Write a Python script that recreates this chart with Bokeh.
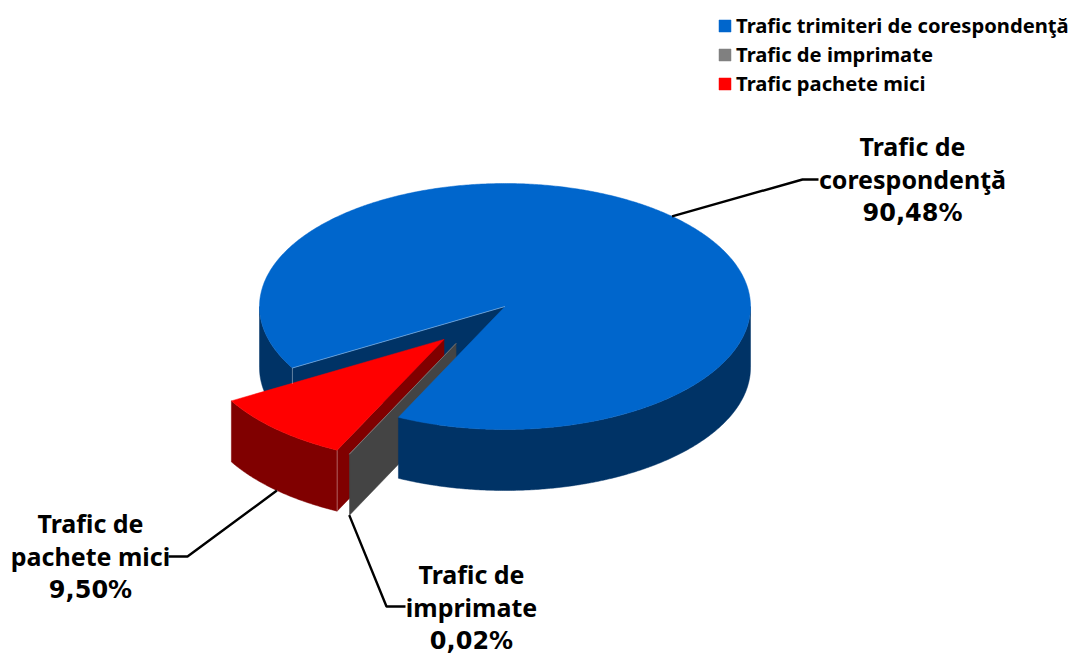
import numpy as np
from bokeh.plotting import figure
from bokeh.models import Range1d, Legend, LegendItem
from bokeh.core.properties import value
from bokeh.embed import file_html
from bokeh.resources import INLINE

# ---- data ----
categories = ["Trafic trimiteri de corespondenţă", "Trafic de imprimate", "Trafic pachete mici"]
shares = [90.48, 0.02, 9.50]
label_lines = [["Trafic de", "corespondenţă"], ["Trafic de", "imprimate"], ["Trafic de", "pachete mici"]]

# ---- style / layout ----
top_colors = ["#0066CC", "#808080", "#FF0000"]
wall_colors = ["#003366", "#444444", "#800000"]
W, H = 1072, 654
FONT = "Noto Sans"
PCT_FONT = "DejaVu Sans"
CX, CY, RX, RY, DEPTH = 504.5, 306.0, 245.5, 123.0, 61.0
FIRST_ANGLE = 240.0


def pt(theta, r=1.0, off=(0.0, 0.0), dz=0.0):
    t = np.radians(theta)
    return (CX + off[0] + r * RX * np.sin(t), CY + off[1] - r * RY * np.cos(t) + dz)


def arc(a, b, off=(0.0, 0.0), dz=0.0):
    n = max(2, int(abs(b - a) * 2) + 2)
    th = np.linspace(a, b, n)
    return [pt(t, 1.0, off, dz) for t in th]


def xs(points):
    return [q[0] for q in points]


def ys(points):
    return [q[1] for q in points]


spans = [s / sum(shares) * 360 for s in shares]
starts = [FIRST_ANGLE]
for s in spans[:-1]:
    starts.append(starts[-1] + s)
ends = [a + s for a, s in zip(starts, spans)]
mids = [(a + b) / 2 for a, b in zip(starts, ends)]

explode_frac = [0.0, 0.36, 0.365]
explode_dir = [mids[0], 213.6, mids[2]]
offs = []
for f, d in zip(explode_frac, explode_dir):
    q = pt(d, f)
    offs.append((q[0] - CX, q[1] - CY))

p = figure(width=W, height=H, x_range=Range1d(0, W), y_range=Range1d(H, 0),
           output_backend="svg", toolbar_location=None, min_border=0,
           background_fill_color="white", border_fill_color="white")
p.axis.visible = False
p.grid.visible = False
p.outline_line_color = None


def poly(points, color, **kw):
    return p.patch(xs(points), ys(points), fill_color=color, line_color=color, line_width=0.5, **kw)


def wall(a, b, off, color):
    top = arc(a, b, off)
    bot = arc(a, b, off, DEPTH)[::-1]
    return poly(top + bot, color)


def radial_wall(theta, off, color):
    c = (CX + off[0], CY + off[1])
    e = pt(theta, 1.0, off)
    return poly([c, e, (e[0], e[1] + DEPTH), (c[0], c[1] + DEPTH)], color)


def top_face(a, b, off, color):
    c = (CX + off[0], CY + off[1])
    return poly([c] + arc(a, b, off), color)


# blue: back part of the rim and the cut face behind the gap
b_a, b_b = starts[0], ends[0]
wall(b_a, 270, offs[0], wall_colors[0])
radial_wall(b_a, offs[0], wall_colors[0])

# red slice
wall(starts[2], ends[2], offs[2], wall_colors[2])
radial_wall(starts[2], offs[2], wall_colors[2])
red_top = top_face(starts[2], ends[2], offs[2], top_colors[2])

# gray slice (almost only a cut face)
radial_wall(starts[1], offs[1], wall_colors[1])
gray_top = top_face(starts[1], ends[1], offs[1], top_colors[1])

# blue: front rim and top
wall(450, b_b, offs[0], wall_colors[0])
blue_top = top_face(b_a, b_b, offs[0], top_colors[0])

# thin light seams along the slice edges
seam_x, seam_y = [], []
c0 = (CX, CY)
e0 = pt(b_a)
seam_x.append([c0[0], e0[0], e0[0]])
seam_y.append([c0[1], e0[1], e0[1] + 16])
e2 = pt(starts[2], 1.0, offs[2])
seam_x.append([e2[0], e2[0]])
seam_y.append([e2[1], e2[1] + DEPTH])
p.multi_line(seam_x, seam_y, line_color="#FFFFFF", line_alpha=0.35, line_width=1)

# leader lines: start on the slice rim, then an elbow towards the label
elbows = [[(802, 179), (818, 179)], [(386, 606), (405, 606)], [(187, 556), (168, 556)]]
lead_dz = [0.0, DEPTH, DEPTH]
for i in range(3):
    start_angle = mids[i] if i != 1 else ends[1]
    s = pt(start_angle, 1.0, offs[i], lead_dz[i])
    p.line([s[0]] + xs(elbows[i]), [s[1]] + ys(elbows[i]), line_color="black", line_width=2.4)

# data labels
label_cx = [912, 471, 90]
label_y0 = [145, 573, 522]
LINE = 33
for i in range(3):
    p.text([label_cx[i]] * 2, [label_y0[i] + LINE * k for k in range(2)], text=label_lines[i],
           text_font=value(FONT), text_font_style="bold", text_font_size="25px",
           text_align="center", text_baseline="middle", text_color="black")
    p.text([label_cx[i]], [label_y0[i] + LINE * 2 + 1], text=[f"{shares[i]:.2f}%".replace(".", ",")],
           text_font=value(PCT_FONT), text_font_style="bold", text_font_size="24px",
           text_align="center", text_baseline="middle", text_color="black")

legend = Legend(items=[LegendItem(label=c, renderers=[r])
                       for c, r in zip(categories, [blue_top, gray_top, red_top])],
                location=(717, H - 97), orientation="vertical",
                glyph_width=15, glyph_height=15, label_standoff=4, spacing=1,
                padding=0, margin=0, border_line_color=None, background_fill_alpha=0,
                label_text_font=FONT, label_text_font_style="bold", label_text_font_size="20.2px",
                label_text_color="black", label_height=15)
p.add_layout(legend, "center")

open("out.html", "w").write(file_html(p, INLINE))
